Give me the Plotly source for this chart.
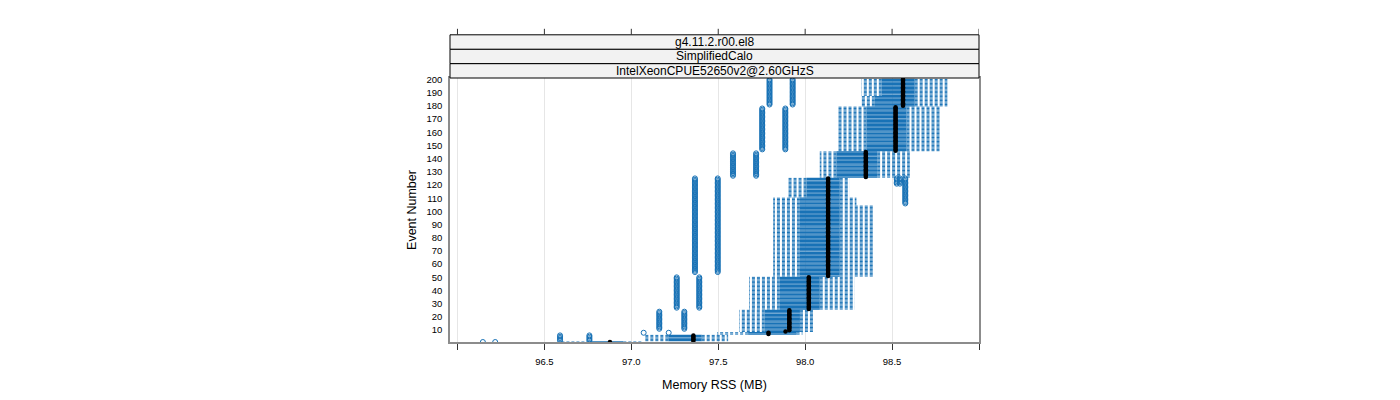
import plotly.graph_objects as go

# ---- data (runs of events sharing the same box statistics) ----
seg_start = [1, 2, 7, 9, 10, 26, 51, 105, 111, 126, 146, 180, 188]
seg_end = [1, 6, 8, 9, 25, 50, 104, 110, 125, 145, 179, 187, 200]
seg_lo = [96.590, 97.079, 97.494, 97.621, 97.621, 97.678, 97.816, 97.816, 97.897, 98.084, 98.184, 98.324, 98.324]
seg_q1 = [96.759, 97.213, 97.672, 97.768, 97.768, 97.855, 97.970, 97.970, 98.008, 98.180, 98.353, 98.401, 98.441]
seg_med = [96.877, 97.357, 97.789, 97.887, 97.909, 98.021, 98.132, 98.132, 98.132, 98.349, 98.520, 98.563, 98.563]
seg_q3 = [96.954, 97.405, 97.951, 97.970, 97.970, 98.084, 98.199, 98.199, 98.199, 98.414, 98.583, 98.630, 98.630]
seg_hi = [97.069, 97.557, 97.985, 98.056, 98.056, 98.286, 98.391, 98.295, 98.257, 98.602, 98.774, 98.818, 98.818]

# outliers: runs of events sharing an outlying value
out_start = [1, 1, 2, 2, 8, 8, 11, 11, 27, 27, 54, 54, 127, 127, 147, 147, 181, 181, 121, 121, 106]
out_end = [1, 1, 6, 6, 8, 8, 24, 24, 50, 50, 125, 125, 144, 144, 178, 178, 200, 200, 125, 125, 125]
out_value = [96.146, 96.217, 96.590, 96.759, 97.071, 97.215, 97.161, 97.305, 97.261, 97.391,
             97.366, 97.497, 97.585, 97.718, 97.753, 97.886, 97.795, 97.928, 98.527, 98.545, 98.576]

x_tick_vals = [96.0, 96.5, 97.0, 97.5, 98.0, 98.5, 99.0]
x_tick_text = ["", "96.5", "97.0", "97.5", "98.0", "98.5", ""]
y_tick_vals = list(range(10, 201, 10))

strip_labels = ["g4.11.2.r00.el8", "SimplifiedCalo", "IntelXeonCPUE52650v2@2.60GHzS"]

BLUE = "rgb(24,114,182)"
FONT = "Liberation Sans, Arial, Helvetica, sans-serif"

# ---- expand runs to per-event rows ----
ev, lo, q1, med, q3, hi = [], [], [], [], [], []
for s, e, a, b, c, d, f in zip(seg_start, seg_end, seg_lo, seg_q1, seg_med, seg_q3, seg_hi):
    for k in range(s, e + 1):
        ev.append(k); lo.append(a); q1.append(b); med.append(c); q3.append(d); hi.append(f)

ox, oy = [], []
for s, e, v in zip(out_start, out_end, out_value):
    for k in range(s, e + 1):
        ox.append(v); oy.append(k)

wx, wy, bx, by = [], [], [], []
for i in range(len(ev)):
    wx += [q1[i], lo[i], None, q3[i], hi[i], None]
    wy += [ev[i], ev[i], None, ev[i], ev[i], None]
    bx += [q1[i], q3[i], None]
    by += [ev[i], ev[i], None]

fig = go.Figure()
fig.add_trace(go.Scatter(x=bx, y=by, mode="lines", line=dict(color=BLUE, width=1.3),
                         hoverinfo="skip", showlegend=False))
fig.add_trace(go.Scatter(x=wx, y=wy, mode="lines", line=dict(color=BLUE, width=1, dash="3px,2px"),
                         hoverinfo="skip", showlegend=False))
fig.add_trace(go.Scatter(x=med, y=ev, mode="markers",
                         marker=dict(symbol="circle", size=4.5, color="black", line=dict(width=0)),
                         showlegend=False))
fig.add_trace(go.Scatter(x=ox, y=oy, mode="markers",
                         marker=dict(symbol="circle-open", size=5, color=BLUE, line=dict(width=1, color=BLUE)),
                         showlegend=False))

# ---- geometry (page body has an 8px margin) ----
W, H = 1384, 384
L, T = 442, 70.3
R = W - 971.3
B = H - 334.3
panel_h = H - T - B
strip_h = 14.4 / panel_h
tick_h = 6 / panel_h

shapes = []
annotations = []
for i, lab in enumerate(strip_labels[::-1]):
    y0 = 1 + i * strip_h
    y1 = y0 + strip_h
    shapes.append(dict(type="rect", xref="paper", yref="paper", x0=0, x1=1, y0=y0, y1=y1,
                       fillcolor="#f2f2f2", line=dict(color="black", width=1), layer="above"))
    annotations.append(dict(xref="paper", yref="paper", x=0.5, y=(y0 + y1) / 2, text=lab,
                            showarrow=False, xanchor="center", yanchor="middle",
                            font=dict(family=FONT, size=12, color="black")))
top = 1 + 3 * strip_h
for v in x_tick_vals:
    shapes.append(dict(type="line", xref="x", yref="paper", x0=v, x1=v, y0=top, y1=top + tick_h,
                       line=dict(color="#333333", width=1)))

fig.update_layout(
    width=W, height=H,
    margin=dict(l=L, r=R, t=T, b=B, pad=0, autoexpand=False),
    paper_bgcolor="white", plot_bgcolor="white",
    font=dict(family=FONT, color="black"),
    shapes=shapes, annotations=annotations,
    xaxis=dict(range=[95.957, 99.0], tickvals=x_tick_vals, ticktext=x_tick_text,
               automargin=False,
               ticks="outside", ticklen=6, tickcolor="#333333", tickwidth=1,
               ticklabelstandoff=4,
               showgrid=True, gridcolor="#e6e6e6", gridwidth=1, zeroline=False,
               showline=True, linecolor="#8c8c8c", linewidth=1.5, mirror=True,
               tickfont=dict(size=9.5, family=FONT, color="black"),
               title=dict(text="Memory RSS (MB)", standoff=14, font=dict(size=12.5, family=FONT))),
    yaxis=dict(range=[1.0, 201.1], tickvals=y_tick_vals, ticks="", showgrid=False, zeroline=False,
               automargin=False,
               showline=True, linecolor="#8c8c8c", linewidth=1.5, mirror=True,
               ticklabelstandoff=4,
               tickfont=dict(size=9.5, family=FONT, color="black"),
               title=dict(text="Event Number", standoff=7, font=dict(size=12.5, family=FONT))),
)

fig.write_html("out.html")
